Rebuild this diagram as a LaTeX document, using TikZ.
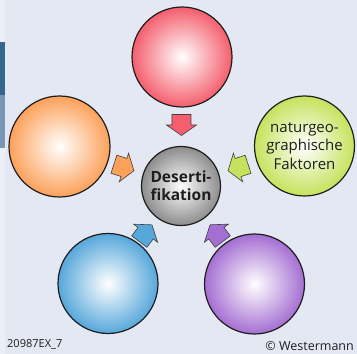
\documentclass[tikz,border=0pt]{standalone}
\usepackage{fontspec}
\setmainfont{Open Sans}
\usetikzlibrary{calc}

\definecolor{bg}{HTML}{E4E8F3}
\definecolor{strip}{HTML}{ECEFF7}
\definecolor{bardark}{HTML}{34668F}
\definecolor{barlight}{HTML}{7896B6}
\definecolor{rd}{HTML}{F45E6D}
\definecolor{og}{HTML}{FCA15A}
\definecolor{gn}{HTML}{C6E25C}
\definecolor{bl}{HTML}{56A7DA}
\definecolor{pu}{HTML}{A46ED2}
\definecolor{gy}{HTML}{8C8C8C}
\definecolor{ink}{HTML}{1E1E1E}

\tikzset{
  ball/.style={circle, draw=ink, line width=1.2pt, minimum size=100pt,
    inner sep=0pt, inner color=white, outer color=#1, text=ink, align=center},
  tipline/.style={draw=ink!85, line width=0.6pt, fill=#1},
  blockarrow/.pic={
    \path[pic actions] (-10.5,-9.5) -- (0,-9.5) -- (0,-15) -- (10.5,0)
      -- (0,15) -- (0,9.5) -- (-10.5,9.5) -- cycle;
  }
}

\begin{document}
\begin{tikzpicture}[x=1pt,y=1pt]
\useasboundingbox (0,0) rectangle (357,354);
% background and left margin bar
\fill[bg] (0,0) rectangle (357,354);
\fill[strip] (0,0) rectangle (5,354);
\fill[bardark] (0,259) rectangle (5,312);
\fill[barlight] (0,206) rectangle (5,259);

% outer circles
\node[ball=rd] (fr) at (182,297) {};
\node[ball=og, minimum size=101pt] (fo) at (59.5,207.5) {};
\node[ball=gn, font=\fontsize{15}{18.5}\selectfont] (fg) at (304.5,208)
  {naturgeo-\\graphische\\Faktoren};
\node[ball=bl] (fb) at (108,70.5) {};
\node[ball=pu] (fp) at (254.5,70) {};

% centre circle
\node[ball=gy, minimum size=79pt, font=\bfseries\fontsize{15.5}{18}\selectfont]
  (c) at (181,168) {Deserti-\\fikation};

% block arrows pointing to the centre
\pic[tipline=rd, rotate=-90] at ($(c)!61pt!(fr)$) {blockarrow};
\pic[tipline=og, rotate=-18] at ($(c)!60pt!(fo)$) {blockarrow};
\pic[tipline=gn, rotate=198] at ($(c)!60pt!(fg)$) {blockarrow};
\pic[tipline=bl, rotate=53] at ($(c)!59pt!(fb)$) {blockarrow};
\pic[tipline=pu, rotate=127] at ($(c)!59pt!(fp)$) {blockarrow};

% footer
\node[anchor=base west, inner sep=0pt, text=ink, font=\fontsize{11}{12}\selectfont]
  (code) at (7,6) {20987EX\_7};
\node[anchor=base east, inner sep=0pt, text=ink, font=\fontsize{12.5}{14}\selectfont]
  (copy) at (354,3.5) {© Westermann};
\end{tikzpicture}
\end{document}
